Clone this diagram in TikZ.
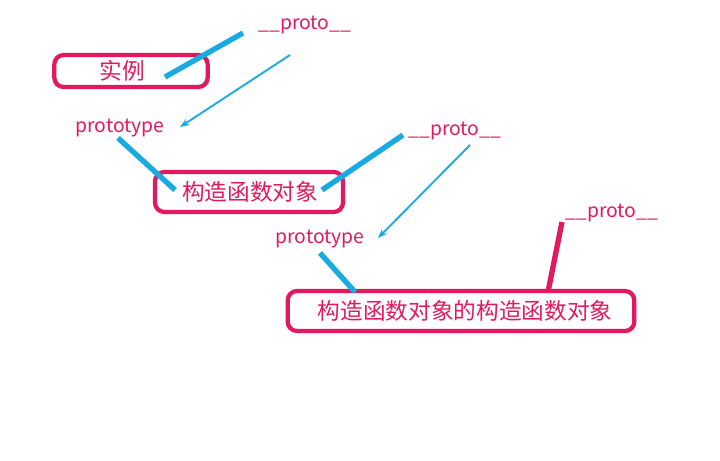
\documentclass[tikz,border=0pt]{standalone}
\usepackage{fontspec}
\usetikzlibrary{arrows.meta}
\setmainfont{Noto Sans CJK SC}
\definecolor{mag}{HTML}{E3195F}
\definecolor{sky}{HTML}{1AAAE2}
\begin{document}
\begin{tikzpicture}[x=0.75pt,y=-0.75pt,
 box/.style={draw=mag,line width=3.2pt,rounded corners=7pt,inner sep=0pt},
 lbl/.style={text=mag,font=\fontsize{14.5}{16}\selectfont,inner sep=0pt},
 cn/.style={text=mag,font=\fontsize{17}{19}\selectfont,inner sep=0pt},
 thick line/.style={draw=sky,line width=4pt},
 thin arrow/.style={draw=sky,line width=1.4pt,-{Stealth[length=7pt]}}]
\useasboundingbox (0,0) rectangle (720,460);
\fill[white] (0,0) rectangle (720,460);
\node[box,minimum width=115pt,minimum height=24pt] (b1) at (131,71) {};
\node[cn] (t1) at (122,71) {实例};
\node[lbl] (p1) at (305,25) {\_\_proto\_\_};
\node[lbl] (pt1) at (120,128) {prototype};
\node[box,minimum width=141pt,minimum height=30pt] (b2) at (249,192) {};
\node[cn] (t2) at (250,192) {构造函数对象};
\node[lbl] (p2) at (455,131) {\_\_proto\_\_};
\node[lbl] (pt2) at (320,239) {prototype};
\node[box,minimum width=260pt,minimum height=30pt] (b3) at (461,311) {};
\node[cn] (t3) at (465,311) {构造函数对象的构造函数对象};
\node[lbl] (p3) at (612,213) {\_\_proto\_\_};
\coordinate (a1) at (165,77); \coordinate (a2) at (243,33);
\coordinate (c1) at (290,55); \coordinate (c2) at (180,127);
\coordinate (d1) at (118,138); \coordinate (d2) at (175,190);
\coordinate (e1) at (322,190); \coordinate (e2) at (403,135);
\coordinate (f1) at (470,145); \coordinate (f2) at (378,238);
\coordinate (g1) at (320,253); \coordinate (g2) at (355,292);
\coordinate (h1) at (562,222); \coordinate (h2) at (548,292);
\draw[thick line] (a1) -- (a2);
\draw[thin arrow] (c1) -- (c2);
\draw[thick line] (d1) -- (d2);
\draw[thick line] (e1) -- (e2);
\draw[thin arrow] (f1) -- (f2);
\draw[thick line] (g1) -- (g2);
\draw[draw=mag,line width=4pt] (h1) -- (h2);
\end{tikzpicture}
\end{document}
